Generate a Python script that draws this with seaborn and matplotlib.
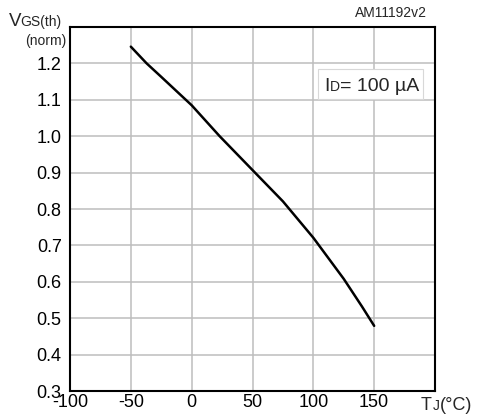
import matplotlib
matplotlib.use("Agg")
import matplotlib.pyplot as plt
import seaborn as sns
import pandas as pd

# values
temp_c = [-50, -37, -25, 0, 23, 50, 75, 100, 125, 140, 150]
vgs_norm = [1.246, 1.200, 1.163, 1.085, 1.000, 0.907, 0.821, 0.721, 0.608, 0.532, 0.479]
x_ticks = [-100, -50, 0, 50, 100, 150]
y_ticks = [0.3, 0.4, 0.5, 0.6, 0.7, 0.8, 0.9, 1.0, 1.1, 1.2]

df = pd.DataFrame({"Tj": temp_c, "Vgs": vgs_norm})

sns.set_theme(style="whitegrid")
plt.rcParams['font.family'] = ['Liberation Sans', 'DejaVu Sans']

W, H = 482, 418
fig = plt.figure(figsize=(W / 100, H / 100), dpi=100)
ax = fig.add_axes([70 / W, 27 / H, 365 / W, 364 / H])

sns.lineplot(data=df, x="Tj", y="Vgs", ax=ax, color="black", linewidth=1.8)

ax.set_xlim(-100, 200)
ax.set_ylim(0.3, 1.3)
ax.set_xticks(x_ticks + [200])
ax.set_xticklabels([str(t) for t in x_ticks] + [""])
ax.set_yticks(y_ticks + [1.3])
ax.set_yticklabels([f"{v:.1f}" for v in y_ticks] + [""])
ax.tick_params(axis="both", length=0, labelsize=13, colors="black")
ax.tick_params(axis="y", pad=6)
ax.tick_params(axis="x", pad=2)
ax.set_xlabel("")
ax.set_ylabel("")
ax.grid(True, color="#bdbdbd", linewidth=1.1)
ax.set_facecolor("white")
for s in ax.spines.values():
    s.set_color("black")
    s.set_linewidth(1.5)


def px_text(x, y, s, size, ha="left"):
    # place text by figure pixel position (y from top, baseline)
    return fig.text(x / W, 1 - y / H, s, fontsize=size, va="baseline", ha=ha, zorder=5)


# condition box
ax.add_patch(plt.Rectangle((318 / W, 1 - 99 / H), 105 / W, 30 / H,
                           transform=fig.transFigure, facecolor="white",
                           edgecolor="#d8d8d8", linewidth=0.8, zorder=3))
px_text(324, 91, "I", 14)
px_text(329.5, 91, "D", 10)
px_text(340, 91, "= 100 µA", 14)

# axis title pieces
px_text(9, 26, "V", 13.5)
px_text(20, 26, "GS(th)", 10)
px_text(66, 45, "(norm)", 10, ha="right")
px_text(421, 410, "T", 13)
px_text(433, 410, "J", 10)
px_text(440, 410, "(°C)", 13)
px_text(427, 17, "AM11192v2", 10, ha="right")

fig.savefig("out.png", dpi=100)
